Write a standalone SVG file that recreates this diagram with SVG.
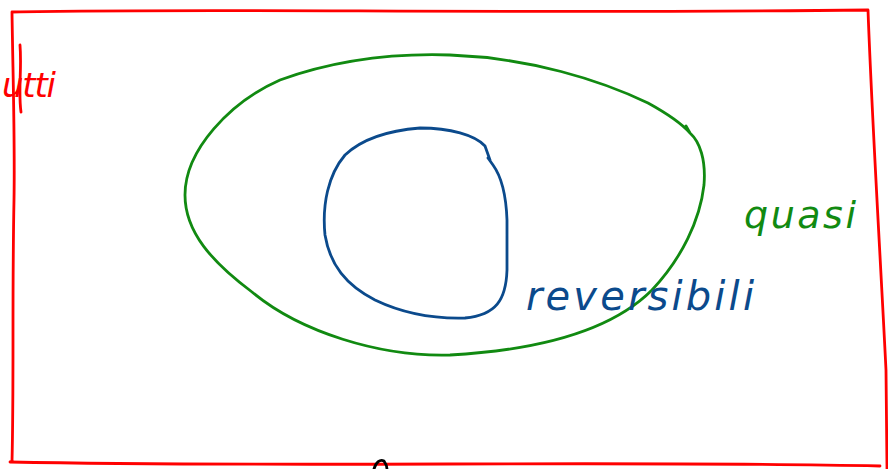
<svg xmlns="http://www.w3.org/2000/svg" width="888" height="469" viewBox="0 0 888 469">
<style>
.s{fill:none;stroke-width:2.8;stroke-linecap:round;stroke-linejoin:round}
.t{font-family:"DejaVu Sans","Liberation Sans",sans-serif;font-style:italic}
</style>
<rect width="888" height="469" fill="#ffffff"/>
<g id="universe">
<path class="s" stroke="#ff0000" d="M12,462 C14,380 12,300 14,200 C15,140 13,80 12,12 C200,8 500,14 868,10 C872,120 880,250 886,370 L887,469 M10,462 C300,468 600,460 880,466 M20,45 C22,70 18,90 21,112"/>
<text class="t" x="2" y="97" font-size="34" fill="#ff0000" textLength="54">utti</text>
</g>
<g id="quasi">
<path class="s" stroke="#118a11" d="M686,126 L690,133 C700,142 706,160 704,185 C700,220 682,258 652,290 C612,330 540,350 450,355 C380,357 300,332 252,292 C212,262 185,232 185,195 C185,150 230,102 280,80 C330,62 390,53 450,55 C530,58 600,80 648,103 C668,114 682,124 690,133"/>
<text class="t" x="744" y="228" font-size="38" fill="#118a11" textLength="112">quasi</text>
</g>
<g id="reversibili">
<path class="s" stroke="#0b4a8c" d="M488,158 L493,165 C501,176 506,192 507,220 L507,270 C506,300 496,315 465,318 C430,319 400,312 375,300 C346,285 330,265 325,235 C322,205 328,175 345,155 C365,136 395,130 420,128 C450,128 475,135 485,146 L490,160"/>
<text class="t" x="526" y="310" font-size="40" fill="#0b4a8c" textLength="228">reversibili</text>
</g>
<g id="connectors">
<path class="s" stroke="#000000" d="M374,469 C376,462 380,459 384,461 C386,464 387,467 387,469"/>
</g>
</svg>
